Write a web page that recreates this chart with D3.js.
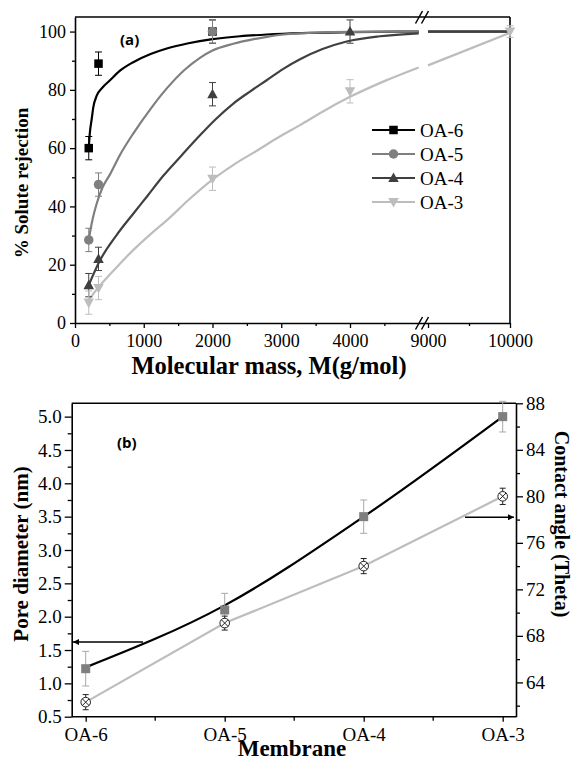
<!DOCTYPE html>
<html>
<head>
<meta charset="utf-8">
<script src="https://cdn.jsdelivr.net/npm/d3@7/dist/d3.min.js"></script>
<style>
  html, body { margin: 0; padding: 0; background: #fff; }
  svg { display: block; }
</style>
</head>
<body>
<svg id="chart" width="577" height="763"></svg>
<script>
// ---------- Panel (a) data ----------
const massTicks = [0, 1000, 2000, 3000, 4000, 9000, 10000];
const massMinor = [500, 1500, 2500, 3500, 4500, 9500];
const rejTicks = [0, 20, 40, 60, 80, 100];
const rejMinor = [10, 30, 50, 70, 90];
const seriesNames = ["OA-6", "OA-5", "OA-4", "OA-3"];
const seriesColors = ["#000000", "#7f7f7f", "#404040", "#bdbdbd"];
const seriesSymbols = ["square", "circle", "triangle", "triangleDown"];

// measured points: [M, rejection, error]
const ptsOA6 = [[200, 60, 4], [342, 89, 4], [2000, 100, 4]];
const ptsOA5 = [[200, 28.5, 4], [342, 47.5, 4], [2000, 100, 4]];
const ptsOA4 = [[200, 13, 4], [342, 22, 4], [2000, 78.5, 4], [4000, 100, 4]];
const ptsOA3 = [[200, 7, 4], [342, 12, 4], [2000, 49.5, 4], [4000, 79.5, 4], [10000, 100, 2]];

// fitted curves: [M, rejection]
const fitOA6a = [[200, 60], [215, 65], [243, 70], [266, 74], [316, 78], [400, 80.8], [509, 83.3], [650, 86.5], [847, 89.5], [1100, 92.3], [1335, 94.2], [1650, 96], [2000, 97.4], [2400, 98.4], [2790, 99], [3300, 99.5], [4000, 99.8], [5000, 100]];
const fitOA6b = [[9000, 100], [10000, 100]];
const fitOA5a = [[200, 28.5], [218, 31], [260, 36], [316, 41], [400, 46.5], [509, 51], [650, 57.5], [847, 65], [1100, 73.5], [1335, 80.5], [1600, 87], [1818, 91], [2000, 93.5], [2303, 95.8], [2600, 97.4], [2793, 98.2], [3000, 98.9], [3500, 99.6], [4000, 99.9], [5000, 100]];
const fitOA5b = [[9000, 100], [10000, 100]];
const fitOA4a = [[200, 13], [364, 21.5], [600, 30], [847, 37.5], [1050, 43.5], [1284, 50.5], [1550, 57.5], [1818, 64.4], [2050, 70], [2303, 75.3], [2550, 79.5], [2788, 83.3], [3030, 87.2], [3273, 90.5], [3600, 94], [3951, 96.6], [4436, 98.4], [5000, 99.4]];
const fitOA4b = [[9000, 100], [10000, 100]];
const fitOA3a = [[200, 8], [364, 12.9], [600, 19], [847, 25], [1100, 30.5], [1335, 35.2], [1650, 42.2], [2000, 49.2], [2300, 54.2], [2650, 59.2], [2967, 63.8], [3273, 67.9], [3600, 72.5], [4000, 77.6], [4500, 83], [5000, 87.7]];
const fitOA3b = [[9000, 88.4], [10000, 99.6]];

// ---------- Panel (b) data ----------
const membranes = ["OA-6", "OA-5", "OA-4", "OA-3"];
const poreTicks = [0.5, 1.0, 1.5, 2.0, 2.5, 3.0, 3.5, 4.0, 4.5, 5.0];
const poreMinor = [0.75, 1.25, 1.75, 2.25, 2.75, 3.25, 3.75, 4.25, 4.75];
const angleTicks = [64, 68, 72, 76, 80, 84, 88];
const angleMinor = [62, 66, 70, 74, 78, 82, 86];
const poreDiameter = [1.22, 2.1, 3.5, 5.0];
const poreErr = [0.26, 0.25, 0.25, 0.23];
const poreFit = [1.24, 2.17, 3.5, 5.0];
const contactAngle = [62.3, 69.1, 74.0, 80.0];
const contactErr = [0.65, 0.6, 0.65, 0.7];

// ---------- drawing ----------
const svg = d3.select("#chart");
const serif = "'Liberation Serif', 'Times New Roman', serif";
const sans = "'Open Sans', 'Liberation Sans', sans-serif";

function styleAxis(g, fs) {
  g.selectAll("path.domain").attr("stroke", "#000").attr("stroke-width", 1.6);
  g.selectAll(".tick line").attr("stroke", "#000").attr("stroke-width", 1.3);
  g.selectAll(".tick text").style("font-family", serif).style("font-size", fs + "px").attr("fill", "#000");
}

// ===== Panel (a) =====
const A = { l: 75, r: 510, t: 17, b: 323 };
const xa = d3.scaleLinear().domain([0, 5000, 9000, 10000]).range([75, 418.75, 428, 510]);
const ya = d3.scaleLinear().domain([0, 105]).range([A.b, A.t]);

const ga = svg.append("g");
ga.append("line").attr("x1", A.l).attr("x2", A.r).attr("y1", A.t).attr("y2", A.t).attr("stroke", "#000").attr("stroke-width", 1.6);
ga.append("line").attr("x1", A.r).attr("x2", A.r).attr("y1", A.t).attr("y2", A.b).attr("stroke", "#000").attr("stroke-width", 1.6);

const axXa = ga.append("g").attr("transform", `translate(0,${A.b})`)
  .call(d3.axisBottom(xa).tickValues(massTicks).tickSize(5).tickPadding(6).tickSizeOuter(0).tickFormat(d3.format("d")));
styleAxis(axXa, 18);
ga.append("g").attr("transform", `translate(0,${A.b})`)
  .call(d3.axisBottom(xa).tickValues(massMinor).tickSize(3).tickFormat("").tickSizeOuter(0))
  .call(g => { g.select("path.domain").remove(); g.selectAll(".tick line").attr("stroke", "#000").attr("stroke-width", 1.3); });

const axYa = ga.append("g").attr("transform", `translate(${A.l},0)`)
  .call(d3.axisLeft(ya).tickValues(rejTicks).tickSize(5).tickPadding(4).tickSizeOuter(0));
styleAxis(axYa, 18);
ga.append("g").attr("transform", `translate(${A.l},0)`)
  .call(d3.axisLeft(ya).tickValues(rejMinor).tickSize(3).tickFormat("").tickSizeOuter(0))
  .call(g => { g.select("path.domain").remove(); g.selectAll(".tick line").attr("stroke", "#000").attr("stroke-width", 1.3); });

function breakMarks(yc) {
  const bx = 423;
  [-4.5, 1.5].forEach(dx => {
    ga.append("line").attr("x1", bx + dx - 3).attr("y1", yc + 6.5).attr("x2", bx + dx + 4).attr("y2", yc - 6)
      .attr("stroke", "#000").attr("stroke-width", 1.5);
  });
}
breakMarks(A.t);
breakMarks(A.b);

const lineA = d3.line().x(d => xa(d[0])).y(d => ya(d[1])).curve(d3.curveMonotoneX);
const fitsA = [[fitOA6a, fitOA6b], [fitOA5a, fitOA5b], [fitOA4a, fitOA4b], [fitOA3a, fitOA3b]];
const ptsA = [ptsOA6, ptsOA5, ptsOA4, ptsOA3];

fitsA.forEach((segs, i) => {
  segs.forEach(seg => {
    ga.append("path").attr("d", lineA(seg)).attr("fill", "none")
      .attr("stroke", seriesColors[i]).attr("stroke-width", 2.2);
  });
});

function drawSymbol(g, type, x, y, color, size) {
  const s = size;
  if (type === "square") {
    g.append("rect").attr("x", x - s / 2).attr("y", y - s / 2).attr("width", s).attr("height", s).attr("fill", color);
  } else if (type === "circle") {
    g.append("circle").attr("cx", x).attr("cy", y).attr("r", s / 2 + 0.5).attr("fill", color);
  } else if (type === "triangle") {
    const h = s * 1.05;
    g.append("path").attr("d", `M${x},${y - h * 0.62}L${x + s * 0.62},${y + h * 0.45}L${x - s * 0.62},${y + h * 0.45}Z`).attr("fill", color);
  } else if (type === "triangleDown") {
    const h = s * 1.05;
    g.append("path").attr("d", `M${x},${y + h * 0.62}L${x + s * 0.62},${y - h * 0.45}L${x - s * 0.62},${y - h * 0.45}Z`).attr("fill", color);
  }
}

function errBar(g, x, y0, y1, color, w) {
  g.append("line").attr("x1", x).attr("x2", x).attr("y1", y0).attr("y2", y1).attr("stroke", color).attr("stroke-width", 1);
  g.append("line").attr("x1", x - w).attr("x2", x + w).attr("y1", y0).attr("y2", y0).attr("stroke", color).attr("stroke-width", 1);
  g.append("line").attr("x1", x - w).attr("x2", x + w).attr("y1", y1).attr("y2", y1).attr("stroke", color).attr("stroke-width", 1);
}

ptsA.forEach((pts, i) => {
  pts.forEach(([m, r, e]) => {
    errBar(ga, xa(m), ya(r + e), ya(r - e), seriesColors[i], 3.5);
    drawSymbol(ga, seriesSymbols[i], xa(m), ya(r), seriesColors[i], 8.5);
  });
});

seriesNames.forEach((name, i) => {
  const y = 130 + i * 24;
  ga.append("line").attr("x1", 372).attr("x2", 415).attr("y1", y).attr("y2", y)
    .attr("stroke", seriesColors[i]).attr("stroke-width", 2.2);
  drawSymbol(ga, seriesSymbols[i], 393.5, y, seriesColors[i], 8.5);
  ga.append("text").attr("x", 420).attr("y", y + 6.5).style("font-size", "19px").style("font-family", serif).text(name);
});

ga.append("text").attr("x", 120).attr("y", 45).style("font-family", sans)
  .style("font-weight", "bold").style("font-size", "15px").text("(a)");

ga.append("text").attr("x", 269).attr("y", 374).attr("text-anchor", "middle").style("font-weight", "bold")
  .style("font-size", "24.5px").style("font-family", serif).text("Molecular mass, M(g/mol)");
ga.append("text").attr("transform", "translate(28,183) rotate(-90)").attr("text-anchor", "middle")
  .style("font-weight", "bold").style("font-size", "19px").style("font-family", serif).text("% Solute rejection");

// ===== Panel (b) =====
const B = { l: 71.7, r: 516, t: 403.3, b: 716.7 };
const xb = d3.scalePoint().domain(membranes).range([85.7, 502.7]);
const yb = d3.scaleLinear().domain([0.5, 5.2]).range([B.b, B.t]);
const yb2 = d3.scaleLinear().domain([61.05, 88]).range([B.b, B.t]);

const gb = svg.append("g");
gb.append("line").attr("x1", B.l).attr("x2", B.r).attr("y1", B.t).attr("y2", B.t).attr("stroke", "#000").attr("stroke-width", 1.6);

const axXb = gb.append("g").attr("transform", `translate(0,${B.b})`)
  .call(d3.axisBottom(xb).tickSize(5).tickPadding(6).tickSizeOuter(0));
styleAxis(axXb, 19);
axXb.select("path.domain").attr("d", `M${B.l},0H${B.r}`);
const midCats = membranes.slice(1).map((m, i) => (xb(membranes[i]) + xb(m)) / 2);
const gMinB = gb.append("g").attr("transform", `translate(0,${B.b})`);
midCats.forEach(x => gMinB.append("line").attr("x1", x).attr("x2", x).attr("y1", 0).attr("y2", 4).attr("stroke", "#000").attr("stroke-width", 1.3));

const axYb = gb.append("g").attr("transform", `translate(${B.l},0)`)
  .call(d3.axisLeft(yb).tickValues(poreTicks).tickSize(7).tickPadding(3).tickSizeOuter(0).tickFormat(d3.format(".1f")));
styleAxis(axYb, 19);
gb.append("g").attr("transform", `translate(${B.l},0)`)
  .call(d3.axisLeft(yb).tickValues(poreMinor).tickSize(4).tickFormat("").tickSizeOuter(0))
  .call(g => { g.select("path.domain").remove(); g.selectAll(".tick line").attr("stroke", "#000").attr("stroke-width", 1.3); });

const axYb2 = gb.append("g").attr("transform", `translate(${B.r},0)`)
  .call(d3.axisRight(yb2).tickValues(angleTicks).tickSize(7).tickPadding(3).tickSizeOuter(0));
styleAxis(axYb2, 19);
gb.append("g").attr("transform", `translate(${B.r},0)`)
  .call(d3.axisRight(yb2).tickValues(angleMinor).tickSize(4).tickFormat("").tickSizeOuter(0))
  .call(g => { g.select("path.domain").remove(); g.selectAll(".tick line").attr("stroke", "#000").attr("stroke-width", 1.3); });

const lineAngle = d3.line().x((d, i) => xb(membranes[i])).y(d => yb2(d));
gb.append("path").attr("d", lineAngle(contactAngle)).attr("fill", "none").attr("stroke", "#bdbdbd").attr("stroke-width", 2.2);
const linePore = d3.line().x((d, i) => xb(membranes[i])).y(d => yb(d)).curve(d3.curveMonotoneX);
gb.append("path").attr("d", linePore(poreFit)).attr("fill", "none").attr("stroke", "#000").attr("stroke-width", 2.2);

poreDiameter.forEach((v, i) => {
  const x = xb(membranes[i]);
  errBar(gb, x, yb(v + poreErr[i]), yb(v - poreErr[i]), "#a8a8a8", 3.5);
  gb.append("rect").attr("x", x - 4.5).attr("y", yb(v) - 4.5).attr("width", 9).attr("height", 9).attr("fill", "#7f7f7f");
});
contactAngle.forEach((v, i) => {
  const x = xb(membranes[i]);
  errBar(gb, x, yb2(v + contactErr[i]), yb2(v - contactErr[i]), "#222", 3);
  const y = yb2(v), r = 4.8;
  gb.append("circle").attr("cx", x).attr("cy", y).attr("r", r).attr("fill", "#fff").attr("stroke", "#222").attr("stroke-width", 1);
  const k = r * 0.7;
  gb.append("path").attr("d", `M${x - k},${y - k}L${x + k},${y + k}M${x - k},${y + k}L${x + k},${y - k}`).attr("stroke", "#222").attr("stroke-width", 1);
});

const defs = svg.append("defs");
defs.append("marker").attr("id", "ah").attr("viewBox", "0 0 10 10").attr("refX", 10).attr("refY", 5)
  .attr("markerWidth", 8).attr("markerHeight", 6).attr("markerUnits", "userSpaceOnUse").attr("orient", "auto")
  .append("path").attr("d", "M0,0L10,5L0,10Z").attr("fill", "#000");
gb.append("line").attr("x1", 143).attr("x2", 73).attr("y1", yb(1.62)).attr("y2", yb(1.62))
  .attr("stroke", "#000").attr("stroke-width", 1.3).attr("marker-end", "url(#ah)");
gb.append("line").attr("x1", 465).attr("x2", 514).attr("y1", yb2(78.2)).attr("y2", yb2(78.2))
  .attr("stroke", "#000").attr("stroke-width", 1.3).attr("marker-end", "url(#ah)");

gb.append("text").attr("x", 117).attr("y", 448).style("font-family", sans)
  .style("font-weight", "bold").style("font-size", "15px").text("(b)");

gb.append("text").attr("x", 292).attr("y", 756).attr("text-anchor", "middle").style("font-weight", "bold")
  .style("font-size", "23px").style("font-family", serif).text("Membrane");
gb.append("text").attr("transform", "translate(28,554) rotate(-90)").attr("text-anchor", "middle")
  .style("font-weight", "bold").style("font-size", "21px").style("font-family", serif).text("Pore diameter (nm)");
gb.append("text").attr("transform", "translate(555,524) rotate(90)").attr("text-anchor", "middle")
  .style("font-weight", "bold").style("font-size", "20px").style("font-family", serif).text("Contact angle (Theta)");
</script>
</body>
</html>
